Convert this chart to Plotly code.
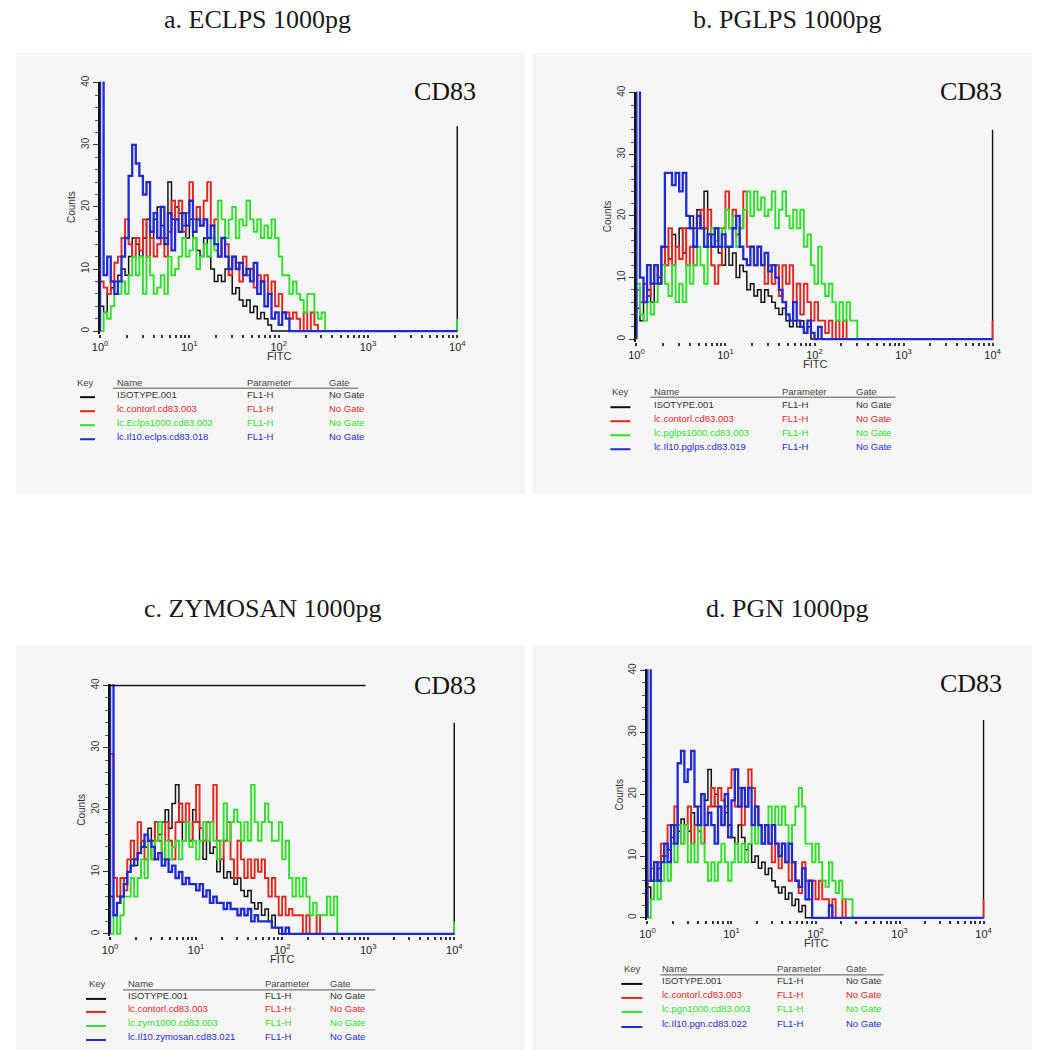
import plotly.graph_objects as go

# page -> figure pixel mapping measured from the rendered page
SX, OX = 0.984, 16.0
SY, OY = 0.993, 14.3
FW, FH = 1041, 1043
LOG_STEP = 0.04            # width of one histogram channel, in decades

COLORS = ["#111111", "#e3261d", "#2ee02a", "#1f2bd1"]
LINE_W = [1.5, 1.9, 1.9, 2.3]

PANEL_TITLES = ["a. ECLPS 1000pg", "b. PGLPS 1000pg", "c. ZYMOSAN 1000pg", "d. PGN 1000pg"]
MARKER_LABEL = "CD83"
X_TICK_VALS = [1, 10, 100, 1000, 10000]
X_TICK_TEXT = ["10<sup>0</sup>", "10<sup>1</sup>", "10<sup>2</sup>", "10<sup>3</sup>", "10<sup>4</sup>"]
Y_TICK_VALS = [0, 10, 20, 30, 40]
X_LABEL = "FITC"
Y_LABEL = "Counts"

LEGEND_HEADERS = ["Key", "Name", "Parameter", "Gate"]
PARAMETER = "FL1-H"
GATE = "No Gate"
NAMES_A = ["ISOTYPE.001", "lc.contorl.cd83.003", "lc.Eclps1000.cd83.003", "lc.Il10.eclps.cd83.018"]
NAMES_B = ["ISOTYPE.001", "lc.contorl.cd83.003", "lc.pglps1000.cd83.003", "lc.Il10.pglps.cd83.019"]
NAMES_C = ["ISOTYPE.001", "lc.contorl.cd83.003", "lc.zym1000.cd83.003", "lc.Il10.zymosan.cd83.021"]
NAMES_D = ["ISOTYPE.001", "lc.contorl.cd83.003", "lc.pgn1000.cd83.003", "lc.Il10.pgn.cd83.022"]

# ---- histogram counts per channel (series order: isotype, control, stimulus, IL10+stimulus)
A_BLACK = [4,3,6,7,8,9,10,9,12,15,14,12,15,18,15,18,20,17,15,24,18,20,19,17,15,18,15,13,12,15,12,10,8,9,8,10,9,6,7,5,4,5,3,4,2,3,2,1,0]
A_RED = [8,7,6,8,11,12,15,18,14,12,15,13,18,12,15,12,14,15,12,16,21,18,21,16,19,24,18,20,17,21,24,17,18,12,15,14,9,12,11,8,12,9,10,7,9,8,9,6,8,4,6,3,3,2,3,2,0,3,0,3,1,0]
A_GREEN = [0,3,2,4,6,6,8,6,9,12,9,12,6,12,9,6,7,9,6,12,9,10,12,15,12,13,15,10,12,14,12,15,13,21,18,15,18,20,15,18,17,21,18,16,18,15,17,15,18,15,12,9,9,6,8,6,5,3,6,6,3,2,3,0]
A_BLUE = [45,9,12,8,6,8,12,15,25,30,27,25,22,24,16,19,15,20,14,19,13,18,16,19,17,21,16,18,17,18,15,17,14,12,15,12,10,12,10,11,9,10,8,11,6,8,4,6,2,3,1,3,2,0]
A_OVERFLOW = [33, 0, 2, 0]

B_BLACK = [5,3,6,8,6,9,10,12,15,13,17,15,18,14,18,20,18,21,18,24,15,17,15,14,12,15,12,14,10,12,11,8,9,7,8,6,8,7,6,5,4,5,3,2,3,2,3,1,2,0]
B_RED = [8,6,9,7,9,12,9,15,12,18,12,15,13,18,12,15,12,18,21,18,21,12,9,12,18,24,18,21,17,18,24,15,15,12,15,12,9,12,9,12,7,12,9,12,6,9,4,9,6,3,6,3,3,1,3,0,3,0,3,0]
B_GREEN = [9,4,3,6,4,6,9,12,9,7,12,6,9,6,12,9,12,15,12,9,15,18,16,18,15,21,18,20,15,18,21,24,20,24,21,23,20,21,24,18,21,24,20,18,21,18,21,15,17,12,9,15,9,7,9,6,3,6,3,6,3,3,0]
B_BLUE = [45,10,6,12,9,12,9,15,27,27,25,27,24,27,20,18,15,20,18,15,17,15,18,15,17,15,15,18,20,15,13,12,15,12,15,12,14,11,12,10,8,6,4,3,6,3,2,1,3,1,0,2,0]
B_OVERFLOW = [34, 3, 0, 0]

C_BLACK = [6,3,5,6,9,10,12,11,13,15,14,17,15,18,16,18,20,17,21,24,18,15,18,15,20,18,15,12,15,13,14,10,12,9,10,9,8,9,7,6,7,5,4,5,3,4,2,3,1,0]
C_RED = [29,9,6,9,7,12,15,12,18,15,12,15,12,18,15,12,18,15,12,18,21,18,21,15,18,24,17,15,18,18,24,15,12,15,18,12,9,15,12,9,12,9,12,10,12,9,6,9,6,3,6,3,4,3,3,3,0,3,0,0,3,0]
C_GREEN = [0,3,0,3,6,6,9,6,9,12,9,15,12,15,18,12,15,12,14,15,12,15,18,14,15,12,15,18,15,18,15,12,15,21,15,18,20,18,15,18,15,24,18,15,18,21,18,15,15,18,12,15,9,6,9,6,9,6,3,5,3,3,3,6,3,6,0]
C_BLUE = [45,3,5,6,8,10,11,12,13,14,16,15,14,12,13,11,12,10,11,9,10,8,9,8,8,7,8,6,7,5,6,5,5,4,5,4,4,3,4,3,4,2,3,2,2,2,2,1,1,1,0,1,0]
C_OVERFLOW = [34, 0, 2, 0]
C_TOP_LINE = (1, 930, 40)   # stray frame line in panel c: x from, x to, at count

D_BLACK = [5,3,6,8,10,12,11,13,15,14,16,15,14,17,15,18,20,19,24,18,20,18,15,17,15,13,12,15,13,11,12,9,10,8,9,7,8,6,5,4,5,3,4,2,3,1,2,0]
D_RED = [6,8,6,9,12,10,15,12,18,15,12,15,18,12,15,14,12,15,18,21,18,21,19,18,21,24,18,21,15,18,24,21,18,15,12,15,12,9,12,8,12,9,6,9,6,4,9,6,3,6,3,6,3,3,0,3,0,0,3,0]
D_GREEN = [0,3,6,3,6,9,6,12,9,15,12,15,9,12,9,15,12,9,6,9,6,9,12,9,6,9,12,9,12,9,12,15,12,15,12,15,18,15,18,15,18,15,12,15,18,21,18,12,12,9,12,9,6,5,9,6,4,6,3,3,3,0]
D_BLUE = [45,6,9,6,9,12,9,15,12,25,27,22,24,27,18,15,20,15,17,15,12,18,15,20,13,19,24,18,21,18,21,15,18,15,12,15,12,15,12,10,12,9,12,9,6,5,8,3,6,0,0,0,0,0,2,0]
D_OVERFLOW = [32, 3, 0, 0]

SERIES = [
    ([A_BLACK, A_RED, A_GREEN, A_BLUE], A_OVERFLOW, NAMES_A),
    ([B_BLACK, B_RED, B_GREEN, B_BLUE], B_OVERFLOW, NAMES_B),
    ([C_BLACK, C_RED, C_GREEN, C_BLUE], C_OVERFLOW, NAMES_C),
    ([D_BLACK, D_RED, D_GREEN, D_BLUE], D_OVERFLOW, NAMES_D),
]

# ---- layout (target picture pixels)
PANELS = [
    dict(x0=100, x4=457, y0=331, y40=83, bg=(8, 53, 525, 493), title=(257, 20), cd83=(445, 92),
         leg=dict(xs=(75, 115, 245, 327), head_y=382, line_y=388, line_x=(113, 358),
                  rows=(394, 408, 422, 436), kx=(80, 95))),
    dict(x0=636, x4=992, y0=339, y40=93, bg=(532, 53, 1040, 493), title=(787, 20), cd83=(970, 92),
         leg=dict(xs=(610, 652, 780, 853), head_y=391, line_y=397, line_x=(650, 895),
                  rows=(404, 418, 432, 446), kx=(610, 630))),
    dict(x0=110, x4=454, y0=933, y40=685, bg=(8, 645, 525, 1050), title=(263, 608), cd83=(445, 685),
         leg=dict(xs=(87, 126, 263, 328), head_y=983, line_y=989, line_x=(123, 375),
                  rows=(995, 1008, 1022, 1036), kx=(86, 106))),
    dict(x0=647, x4=983, y0=917, y40=670, bg=(532, 645, 1040, 1050), title=(787, 608), cd83=(970, 683),
         leg=dict(xs=(622, 660, 775, 843), head_y=968, line_y=974, line_x=(660, 883),
                  rows=(980, 994, 1008, 1023), kx=(621, 642))),
]

XLO, XHI = -0.004, 4.012
YLO, YHI = -0.4, 40.2
SANS = "Liberation Sans, Arial, sans-serif"
SERIF = "Liberation Serif, Times New Roman, serif"

fig = go.Figure()
shapes, annotations = [], []


def px(x):
    return min(max(((x - OX) / SX) / FW, 0.0), 1.0)


def py(y):
    return min(max(1 - ((y - OY) / SY) / FH, 0.0), 1.0)


def note(text, x, y, size, color, family=SANS, xanchor="center", angle=0):
    annotations.append(dict(text=text, xref="paper", yref="paper", x=px(x), y=py(y),
                            xanchor=xanchor, yanchor="middle", showarrow=False, textangle=angle,
                            font=dict(family=family, size=size, color=color)))


for k, (panel, (series, overflow, names)) in enumerate(zip(PANELS, SERIES)):
    n = "" if k == 0 else str(k + 1)
    xa, ya = "x" + n, "y" + n
    d = (panel["x4"] - panel["x0"]) / 4.0
    c = (panel["y0"] - panel["y40"]) / 40.0
    xdom = [px(panel["x0"] + XLO * d), px(panel["x0"] + XHI * d)]
    ydom = [py(panel["y0"] - YLO * c), py(panel["y40"] - (YHI - 40) * c)]

    # background box
    bx0, by0, bx1, by1 = panel["bg"]
    shapes.append(dict(type="rect", xref="paper", yref="paper", x0=px(bx0), x1=px(bx1),
                       y0=py(by1), y1=py(by0), fillcolor="#f6f6f6",
                       line=dict(width=0), layer="below"))

    for vals, ov, col, lw in zip(series, overflow, COLORS, LINE_W):
        xs = [1.0] + [10 ** (i * LOG_STEP) for i in range(len(vals))]
        ys = [0] + list(vals)
        xs += [10 ** (len(vals) * LOG_STEP), 1e4, 1e4]
        ys += [0, 0, ov]
        fig.add_trace(go.Scatter(x=xs, y=ys, mode="lines", line=dict(color=col, width=lw, shape="hv"),
                                 xaxis=xa, yaxis=ya, showlegend=False, hoverinfo="skip"))

    fig.layout["xaxis" + n] = dict(
        type="log", domain=xdom, range=[XLO, XHI], anchor=ya,
        tickmode="array", tickvals=X_TICK_VALS, ticktext=X_TICK_TEXT,
        ticks="outside", ticklen=3, tickwidth=2, tickcolor="#333",
        minor=dict(dtick="D1", ticks="outside", ticklen=3, tickwidth=2, tickcolor="#333", showgrid=False),
        showgrid=False, zeroline=False, showline=False,
        tickfont=dict(family=SANS, size=11, color="#222"),
    )
    fig.layout["yaxis" + n] = dict(
        domain=ydom, range=[YLO, YHI], anchor=xa,
        tickmode="array", tickvals=Y_TICK_VALS, tickangle=-90,
        ticks="outside", ticklen=5, tickwidth=1, tickcolor="#333",
        minor=dict(dtick=2, ticks="outside", ticklen=3, tickwidth=1, tickcolor="#555", showgrid=False),
        showgrid=False, zeroline=False, showline=True, linecolor="#111", linewidth=1.5,
        tickfont=dict(family=SANS, size=10, color="#333"),
    )

    if k == 2:
        x_from, x_to, yv = C_TOP_LINE
        shapes.append(dict(type="line", xref=xa, yref=ya, x0=x_from, x1=x_to, y0=yv, y1=yv,
                           line=dict(color="#111", width=1.5)))

    # axis labels
    note(X_LABEL, (panel["x0"] + panel["x4"]) / 2, panel["y0"] + 25, 11, "#333")
    note(Y_LABEL, panel["x0"] - 28, (panel["y0"] + panel["y40"]) / 2, 10, "#333", angle=-90)
    # titles
    tx, ty = panel["title"]
    note(PANEL_TITLES[k], tx, ty, 26, "#1a1a1a", family=SERIF)
    cx, cy = panel["cd83"]
    note(MARKER_LABEL, cx, cy, 26, "#111", family=SERIF)

    # legend table
    lg = panel["leg"]
    for hx, htxt in zip(lg["xs"], LEGEND_HEADERS):
        note(htxt, hx, lg["head_y"], 9.5, "#444", xanchor="left")
    shapes.append(dict(type="line", xref="paper", yref="paper", x0=px(lg["line_x"][0]), x1=px(lg["line_x"][1]),
                       y0=py(lg["line_y"]), y1=py(lg["line_y"]), line=dict(color="#555", width=1)))
    for ry, name, col in zip(lg["rows"], names, COLORS):
        tcol = "#333" if col == "#111111" else col
        for cx_, txt in zip(lg["xs"][1:], [name, PARAMETER, GATE]):
            note(txt, cx_, ry, 9.5, tcol, xanchor="left")
        shapes.append(dict(type="line", xref="paper", yref="paper", x0=px(lg["kx"][0]), x1=px(lg["kx"][1]),
                           y0=py(ry + 3), y1=py(ry + 3), line=dict(color=col, width=2)))

fig.update_layout(width=FW, height=FH, margin=dict(l=0, r=0, t=0, b=0),
                  paper_bgcolor="white", plot_bgcolor="rgba(0,0,0,0)",
                  shapes=shapes, annotations=annotations, showlegend=False)

fig.write_html("out.html", config={"displayModeBar": False})
